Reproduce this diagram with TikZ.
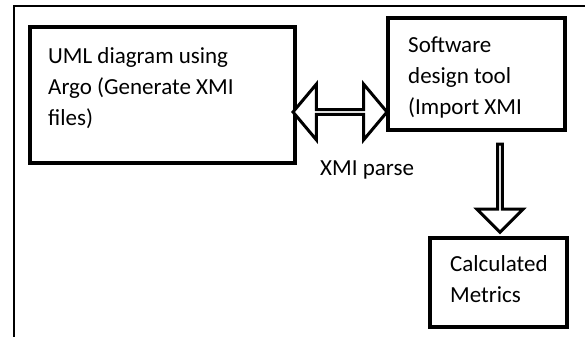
\documentclass[tikz,border=0pt]{standalone}
\usepackage{fontspec}
\setmainfont{Carlito}
\usetikzlibrary{shapes.arrows}

\begin{document}
\begin{tikzpicture}[
  x=1pt, y=-1pt,
  font=\fontsize{23}{31}\selectfont,
  frame/.style={line width=2pt},
  box/.style={draw=black,line width=4pt,inner sep=0pt},
  txt/.style={anchor=north west,align=left,inner sep=0pt},
  flow/.style={draw=black,line width=3pt,inner sep=0pt,fill=white},
]
\useasboundingbox (0,0) rectangle (587,337);

% ---- outer frame (top and left only) ----
\draw[frame] (14,337) -- (14,6) -- (585,6);

% ---- boxes ----
\node[box,minimum width=265pt,minimum height=136pt] (uml) at (162.5,95) {};
\node[box,minimum width=177pt,minimum height=112pt] (tool) at (476.5,74) {};
\node[box,minimum width=137pt,minimum height=89pt] (metrics) at (498.5,282.5) {};

% ---- box texts ----
\node[txt] (umltxt) at (48,47.5) {UML diagram using\\Argo (Generate XMI\\files)};
\node[txt] (tooltxt) at (408,36.5) {Software\\design tool\\(Import XMI};
\node[txt] (metricstxt) at (450,255.5) {Calculated\\Metrics};

% ---- block arrows ----
\node[flow,double arrow,double arrow tip angle=100,
      double arrow head extend=16.5pt,
      minimum height=94pt,minimum width=56pt] (parse) at (340,112) {};
\node[flow,single arrow,single arrow tip angle=90,
      single arrow head extend=13pt,rotate=-90,
      minimum height=88pt,minimum width=46pt] (down) at (500,187) {};

\node[txt] (parsetxt) at (320,161) {XMI parse};

\end{tikzpicture}
\end{document}
